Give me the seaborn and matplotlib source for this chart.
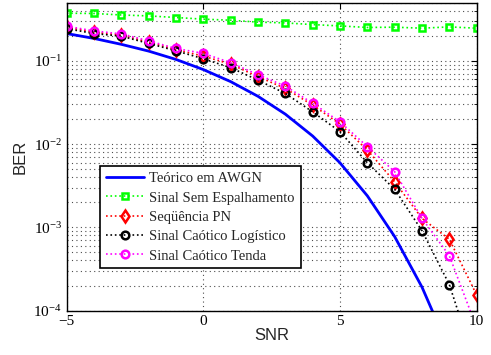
import numpy as np
import pandas as pd
import matplotlib
matplotlib.use("Agg")
import matplotlib.pyplot as plt
import seaborn as sns
from matplotlib.ticker import LogLocator, NullFormatter, FixedLocator

snr = [-5, -4, -3, -2, -1, 0, 1, 2, 3, 4, 5, 6, 7, 8, 9, 10]

teorico = [0.213, 0.186, 0.158, 0.131, 0.104, 0.0786, 0.0563, 0.0375, 0.0229,
           0.0125, 0.00595, 0.00239, 0.000773, 0.000191, 3.36e-5, 3.87e-6]
sem_esp = [0.374, 0.371, 0.356, 0.347, 0.332, 0.317, 0.308, 0.292, 0.286,
           0.273, 0.263, 0.252, 0.254, 0.247, 0.256, 0.247]
seq_pn = [0.254, 0.221, 0.204, 0.168, 0.136, 0.114, 0.0913, 0.0646, 0.0466,
          0.0294, 0.0174, 0.00848, 0.00352, 0.00128, 0.000718, 0.000154]
logistico = [0.244, 0.213, 0.198, 0.162, 0.132, 0.106, 0.0828, 0.0586, 0.0406,
             0.0244, 0.0141, 0.00597, 0.00286, 0.00091, 0.000205, 2.0e-5]
tenda = [0.261, 0.229, 0.211, 0.174, 0.141, 0.123, 0.0951, 0.0682, 0.0497,
         0.0310, 0.0185, 0.00934, 0.00465, 0.00128, 0.000456, 6.2e-5]

labels = ["Teórico em AWGN", "Sinal Sem Espalhamento", "Seqüência PN",
          "Sinal Caótico Logístico", "Sinal Caótico Tenda"]

sns.set_style("white")
plt.rcParams['font.family'] = ['Liberation Serif', 'DejaVu Serif']
plt.rcParams['mathtext.fontset'] = 'custom'
plt.rcParams['mathtext.rm'] = 'Liberation Serif'
plt.rcParams['mathtext.it'] = 'Liberation Serif:italic'

fig = plt.figure(figsize=(4.91, 3.55), dpi=100)
ax = fig.add_axes([66.7/491, 1-310.6/355, (476.7-66.7)/491, (310.6-2.7)/355])

common = dict(ax=ax, linestyle=':', markerfacecolor='none', markeredgewidth=1.8,
              linewidth=1.2, estimator=None, sort=False)
sns.lineplot(x=snr, y=teorico, ax=ax, color='#0000ff', linewidth=2, label=labels[0],
             estimator=None, sort=False)
sns.lineplot(x=snr, y=sem_esp, color='#00ff00', marker='s', markersize=5,
             markeredgecolor='#00ff00', label=labels[1], **common)
sns.lineplot(x=snr, y=seq_pn, color='#ff0000', marker='d', markersize=6,
             markeredgecolor='#ff0000', label=labels[2], **common)
sns.lineplot(x=snr, y=logistico, color='#000000', marker='o', markersize=5.5,
             markeredgecolor='#000000', label=labels[3], **common)
sns.lineplot(x=snr, y=tenda, color='#ff00ff', marker='o', markersize=5.5,
             markeredgecolor='#ff00ff', label=labels[4], **common)

ax.set_yscale('log')
ax.set_xlim(-5, 10)
ax.set_ylim(1e-4, 0.5)
ax.set_xticks([-5, 0, 5, 10])
ax.set_xticklabels(['\u22125', '0', '5', '10'])
ax.yaxis.set_major_locator(FixedLocator([1e-4, 1e-3, 1e-2, 1e-1]))
ax.yaxis.set_minor_locator(LogLocator(base=10, subs=np.arange(2, 10)))
ax.yaxis.set_minor_formatter(NullFormatter())
ax.set_yticklabels([r'$10^{-4}$', r'$10^{-3}$', r'$10^{-2}$', r'$10^{-1}$'])

ax.grid(True, which='major', axis='both', linestyle=(0, (1, 3)), color='0.3', linewidth=0.8)
ax.grid(True, which='minor', axis='y', linestyle=(0, (1, 3)), color='0.3', linewidth=0.8)

ax.tick_params(which='both', direction='in', top=True, right=True, labelsize=11,
               colors='black')
ax.tick_params(which='major', length=4, width=0.8)
ax.tick_params(which='minor', length=2, width=0.6)
for s in ax.spines.values():
    s.set_color('black')
    s.set_linewidth(1.0)

ax.set_xlabel('SNR', fontsize=12, family=['Liberation Sans', 'DejaVu Sans'], labelpad=0)
ax.set_ylabel('BER', fontsize=12, family=['Liberation Sans', 'DejaVu Sans'], labelpad=4)

leg = ax.legend(loc='lower left', bbox_to_anchor=(0.081, 0.137), borderaxespad=0,
                fontsize=10.5, frameon=True, fancybox=False, handlelength=2.6,
                labelspacing=0.42, borderpad=0.4, handletextpad=0.4)
leg.get_frame().set_edgecolor('black')
leg.get_frame().set_linewidth(1.2)
leg.get_frame().set_alpha(1)

fig.savefig('out.png', dpi=100)
